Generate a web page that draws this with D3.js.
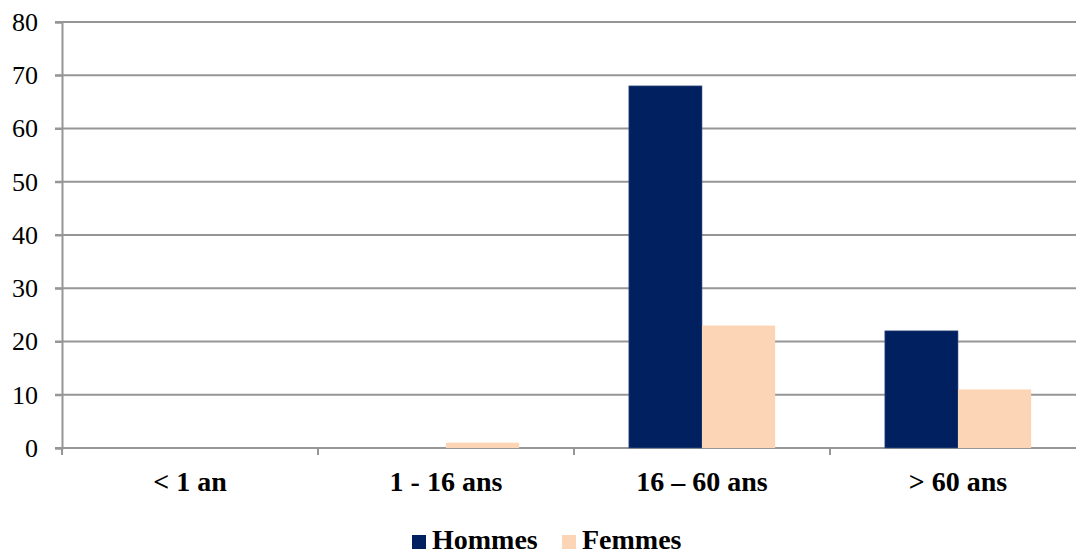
<!DOCTYPE html>
<html>
<head>
<meta charset="utf-8">
<script src="https://cdn.jsdelivr.net/npm/d3@7"></script>
<style>
  body { margin: 0; background: #fff; }
  svg { display: block; font-family: "Liberation Serif", "Times New Roman", serif; }
</style>
</head>
<body>
<div id="chart"></div>
<script>
// Categories and series
const categories = ['< 1 an', '1 - 16 ans', '16 \u2013 60 ans', '> 60 ans'];
const hommes = [0, 0, 68, 22];
const femmes = [0, 1, 23, 11];
const seriesNames = ['Hommes', 'Femmes'];
const yTicks = [0, 10, 20, 30, 40, 50, 60, 70, 80];

const w = 1076;
const h = 552;
const plotLeft = 62;
const plotTop = 22;
const plotRight = 1086;
const plotBottom = 448;

const colors = { Hommes: '#002060', Femmes: '#FBD5B5' };
const serif = '"Liberation Serif", "Times New Roman", serif';

const svg = d3.select('#chart').append('svg')
  .attr('width', w)
  .attr('height', h);

// Scales
const xScale = d3.scaleBand()
  .domain(categories)
  .range([plotLeft, plotRight]);

const xInner = d3.scaleBand()
  .domain(seriesNames)
  .range([0, xScale.bandwidth()])
  .paddingOuter(0.75);

const yScale = d3.scaleLinear()
  .domain([0, 80])
  .range([plotBottom, plotTop]);

// Gridlines
svg.append('g')
  .selectAll('line')
  .data(yTicks)
  .enter()
  .append('line')
  .attr('x1', plotLeft - 7)
  .attr('x2', w)
  .attr('y1', d => yScale(d))
  .attr('y2', d => yScale(d))
  .attr('stroke', '#969696')
  .attr('stroke-width', 2);

// Bars
const rows = categories.map((c, i) => ({ cat: c, Hommes: hommes[i], Femmes: femmes[i] }));

const groups = svg.append('g')
  .selectAll('g')
  .data(rows)
  .enter()
  .append('g')
  .attr('transform', d => 'translate(' + xScale(d.cat) + ',0)');

groups.selectAll('rect')
  .data(d => seriesNames.map(s => ({ s: s, v: d[s] })).filter(o => o.v > 0))
  .enter()
  .append('rect')
  .attr('x', d => xInner(d.s))
  .attr('width', xInner.bandwidth())
  .attr('y', d => yScale(d.v))
  .attr('height', d => plotBottom - yScale(d.v))
  .attr('fill', d => colors[d.s])
  .attr('stroke', d => d.s === 'Hommes' ? '#4a5f8a' : 'none')
  .attr('stroke-width', 0.6);

// Y axis
const yAxis = d3.axisLeft(yScale).tickValues(yTicks).tickSize(7).tickPadding(17);
const gy = svg.append('g')
  .attr('transform', 'translate(' + plotLeft + ',0)')
  .call(yAxis);
gy.select('.domain').attr('stroke', '#969696').attr('stroke-width', 2);
gy.selectAll('.tick line').attr('stroke', '#969696').attr('stroke-width', 2);
gy.selectAll('.tick text')
  .attr('font-size', 26)
  .attr('fill', '#000')
  .attr('font-family', serif);

// X axis
const xAxis = d3.axisBottom(xScale).tickSize(0).tickPadding(23);
const gx = svg.append('g')
  .attr('transform', 'translate(0,' + plotBottom + ')')
  .call(xAxis);
gx.select('.domain').remove();
gx.selectAll('.tick text')
  .attr('font-size', 28)
  .attr('font-weight', 'bold')
  .attr('fill', '#000')
  .attr('font-family', serif);

// Category separators
svg.append('g')
  .selectAll('line')
  .data(categories)
  .enter()
  .append('line')
  .attr('x1', d => xScale(d))
  .attr('x2', d => xScale(d))
  .attr('y1', plotBottom)
  .attr('y2', plotBottom + 7)
  .attr('stroke', '#969696')
  .attr('stroke-width', 2);

// Legend
const legendX = [412, 562];
const legend = svg.append('g')
  .selectAll('g')
  .data(seriesNames)
  .enter()
  .append('g')
  .attr('transform', (d, i) => 'translate(' + legendX[i] + ',535)');

legend.append('rect')
  .attr('width', 14)
  .attr('height', 14)
  .attr('fill', d => colors[d]);

legend.append('text')
  .attr('x', 20)
  .attr('y', 14)
  .attr('font-size', 28)
  .attr('font-weight', 'bold')
  .attr('font-family', serif)
  .text(d => d);
</script>
</body>
</html>
